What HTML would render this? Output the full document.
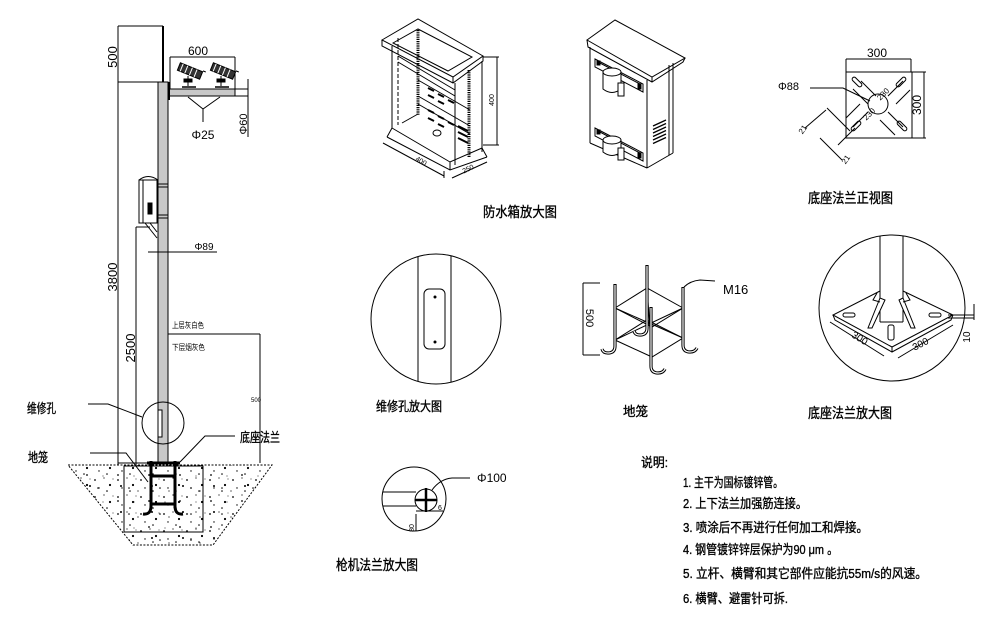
<!DOCTYPE html>
<html><head><meta charset="utf-8"><style>
html,body{margin:0;padding:0;background:#fff;}
svg{display:block;}
.t{font-family:"Liberation Sans","Noto Sans CJK SC",sans-serif;fill:#000;stroke:none;}
.c{stroke:#000;stroke-width:0.35;}
</style></head><body>
<svg width="1008" height="623" viewBox="0 0 1008 623" xmlns="http://www.w3.org/2000/svg">
<defs>
<pattern id="d1" width="23" height="17" patternUnits="userSpaceOnUse">
<circle cx="3" cy="4" r="0.9"/><circle cx="12" cy="2" r="0.6"/><circle cx="18" cy="9" r="1.1"/><circle cx="7" cy="12" r="0.7"/><circle cx="15" cy="15" r="0.8"/><circle cx="21" cy="3" r="0.5"/>
</pattern>
<pattern id="d2" width="31" height="26" patternUnits="userSpaceOnUse">
<circle cx="5" cy="20" r="0.8"/><circle cx="25" cy="7" r="0.9"/><circle cx="14" cy="23" r="0.6"/><circle cx="28" cy="18" r="1"/><circle cx="10" cy="8" r="0.5"/>
</pattern>
</defs>
<rect width="1008" height="623" fill="#fff"/>

<g stroke="#000" stroke-width="1" fill="none">
<!-- ===== LEFT POLE ===== -->
<polygon points="68,465 272,465 213,545 133,545" fill="url(#d1)" stroke-dasharray="2,1.5"/>
<polygon points="68,465 272,465 213,545 133,545" fill="url(#d2)" stroke="none"/>
<rect x="124" y="466" width="79" height="66"/>

<line x1="118" y1="26" x2="163" y2="26"/>
<line x1="163" y1="26" x2="163" y2="82" stroke-width="2"/>
<line x1="118" y1="26" x2="118" y2="465"/>
<line x1="118" y1="82" x2="158" y2="82"/>
<line x1="136" y1="227" x2="136" y2="465"/>
<line x1="136" y1="227" x2="150" y2="227"/>
<line x1="118" y1="463" x2="150" y2="463"/>
<rect x="158" y="82" width="10" height="381" fill="#c8c8c8"/>
<line x1="158" y1="184" x2="168" y2="184"/><line x1="158" y1="187" x2="168" y2="187"/>
<line x1="158" y1="215" x2="168" y2="215"/><line x1="158" y1="218" x2="168" y2="218"/>

<!-- crossarm -->
<rect x="168" y="89" width="67" height="7" fill="#c8c8c8"/>
<rect x="235" y="89" width="13" height="7" fill="#fff"/>
<line x1="169" y1="82" x2="169" y2="100" stroke-width="2"/>
<line x1="170" y1="57" x2="235" y2="57"/>
<line x1="170" y1="57" x2="170" y2="89"/>
<line x1="235" y1="57" x2="235" y2="89"/>
<line x1="248" y1="79" x2="248" y2="137"/>
<polyline points="188,97 203,109 220,97"/>
<line x1="203" y1="109" x2="203" y2="122"/>
<!-- cameras -->
<g transform="translate(190,71) rotate(22)"><rect x="-12" y="-4" width="24" height="8" fill="#333"/><line x1="-9" y1="-4" x2="-9" y2="4" stroke="#fff"/><line x1="-4" y1="-4" x2="-4" y2="4" stroke="#fff"/><line x1="1" y1="-4" x2="1" y2="4" stroke="#fff"/><line x1="6" y1="-4" x2="6" y2="4" stroke="#fff"/><line x1="12" y1="-5" x2="15" y2="-5"/></g>
<line x1="188" y1="76" x2="188" y2="86"/><rect x="184" y="79" width="8" height="3" fill="#000"/><line x1="182" y1="87" x2="196" y2="87" stroke-width="1.5"/>
<g transform="translate(223,71) rotate(22)"><rect x="-12" y="-4" width="24" height="8" fill="#333"/><line x1="-9" y1="-4" x2="-9" y2="4" stroke="#fff"/><line x1="-4" y1="-4" x2="-4" y2="4" stroke="#fff"/><line x1="1" y1="-4" x2="1" y2="4" stroke="#fff"/><line x1="6" y1="-4" x2="6" y2="4" stroke="#fff"/><line x1="12" y1="-5" x2="15" y2="-5"/></g>
<line x1="221" y1="76" x2="221" y2="86"/><rect x="217" y="79" width="8" height="3" fill="#000"/><line x1="215" y1="87" x2="229" y2="87" stroke-width="1.5"/>

<!-- box on pole -->
<path d="M139,180 Q148,173 158,180"/>
<rect x="139" y="180" width="18" height="43" fill="#fff"/>
<line x1="143" y1="180" x2="143" y2="223"/>
<rect x="148" y="203" width="4" height="11" fill="#000"/>
<line x1="145" y1="223" x2="157" y2="238"/><line x1="150" y1="223" x2="157" y2="232"/>
<line x1="148" y1="252" x2="217" y2="252"/>

<!-- colour leader -->
<line x1="168" y1="334" x2="260" y2="334"/>
<line x1="260" y1="334" x2="260" y2="463"/>

<!-- maintenance hole -->
<circle cx="163" cy="423" r="21"/>
<rect x="158" y="410" width="4" height="27" fill="#fff"/>
<polyline points="88,404 108,404 142,417"/>
<polyline points="235,436 205,436 180,462"/>
<polyline points="90,453 126,453 148,482"/>

<!-- anchor cage -->
<g stroke-width="3">
<line x1="147" y1="463" x2="180" y2="463"/>
<line x1="151" y1="461" x2="151" y2="508"/>
<line x1="175" y1="461" x2="175" y2="508"/>
<line x1="151" y1="476" x2="175" y2="476"/>
<line x1="151" y1="504" x2="175" y2="504"/>
<path d="M151,506 Q151,515 143,514"/>
<path d="M175,506 Q175,515 183,514"/>
</g>

<!-- ===== OPEN BOX ===== -->
<polygon points="382,40 418,19 483,56 453,77"/>
<polyline points="382,40 382,46 453,83 483,61 483,56"/>
<line x1="453" y1="77" x2="453" y2="83"/>
<polygon points="393,43 418,29 472,57 448,71"/>
<line x1="392" y1="46" x2="392" y2="128"/>
<line x1="455" y1="83" x2="455" y2="165"/>
<line x1="482" y1="61" x2="482" y2="152"/>
<line x1="398" y1="38" x2="398" y2="125" stroke-dasharray="4,2"/>
<line x1="418" y1="30" x2="418" y2="115" stroke-width="3" stroke-dasharray="1.2,1"/>
<line x1="469" y1="70" x2="469" y2="157" stroke-width="3" stroke-dasharray="1.2,1"/>
<line x1="398" y1="56" x2="455" y2="90"/>
<line x1="398" y1="62" x2="455" y2="96"/>
<line x1="418" y1="80" x2="470" y2="110"/>
<line x1="418" y1="96" x2="470" y2="126"/>
<line x1="418" y1="104" x2="470" y2="134"/>
<g stroke-width="2">
<line x1="428" y1="88" x2="434" y2="91"/><line x1="438" y1="94" x2="444" y2="97"/><line x1="428" y1="95" x2="434" y2="98"/><line x1="438" y1="101" x2="444" y2="104"/><line x1="448" y1="100" x2="454" y2="103"/>
<line x1="428" y1="110" x2="434" y2="113"/><line x1="438" y1="116" x2="444" y2="119"/><line x1="428" y1="118" x2="434" y2="121"/><line x1="438" y1="124" x2="444" y2="127"/><line x1="448" y1="122" x2="454" y2="125"/>
<line x1="458" y1="126" x2="468" y2="131"/><line x1="458" y1="132" x2="468" y2="137"/><line x1="458" y1="138" x2="468" y2="143"/>
</g>
<polyline points="387,137 450,170 487,157"/>
<polyline points="392,128 450,162 482,148"/>
<line x1="387" y1="137" x2="392" y2="128"/><line x1="487" y1="157" x2="482" y2="148"/>
<line x1="450" y1="162" x2="450" y2="170"/>
<polyline points="402,123 418,114"/>
<ellipse cx="437" cy="133" rx="4" ry="3"/>
<line x1="383" y1="143" x2="444" y2="176"/>
<line x1="452" y1="178" x2="487" y2="162"/>
<line x1="444" y1="171" x2="444" y2="178"/>
<line x1="483" y1="57" x2="499" y2="57"/>
<line x1="483" y1="145" x2="499" y2="145"/>
<line x1="497" y1="57" x2="497" y2="145"/>

<!-- ===== CLOSED BOX ===== -->
<polygon points="587,40 615,20 685,58 652,77"/>
<polyline points="587,40 588,47 652,82 683,62 685,58"/>
<line x1="652" y1="77" x2="652" y2="82"/>
<line x1="590" y1="47" x2="590" y2="143"/>
<line x1="647" y1="80" x2="647" y2="168"/>
<line x1="590" y1="143" x2="647" y2="168"/>
<line x1="673" y1="63" x2="673" y2="153"/>
<line x1="669" y1="65" x2="669" y2="155"/>
<line x1="647" y1="168" x2="673" y2="153"/>
<polygon points="595,59 643,84 643,92 595,67"/>
<line x1="598" y1="62" x2="640" y2="84"/>
<rect x="597" y="61" width="3" height="4" fill="#000"/><rect x="638" y="84" width="3" height="5" fill="#000"/>
<path d="M603,72 L603,89 Q612,96 621,89 L621,72" fill="#fff"/>
<ellipse cx="612" cy="72" rx="9" ry="4" fill="#fff"/>
<rect x="618" y="83" width="6" height="13" fill="#fff"/>
<polygon points="595,128 643,153 643,161 595,136"/>
<line x1="598" y1="131" x2="640" y2="153"/>
<rect x="597" y="130" width="3" height="4" fill="#000"/><rect x="638" y="153" width="3" height="5" fill="#000"/>
<path d="M603,140 L603,152 Q612,159 621,152 L621,140" fill="#fff"/>
<ellipse cx="612" cy="140" rx="9" ry="4" fill="#fff"/>
<rect x="618" y="148" width="6" height="12" fill="#fff"/>
<g stroke-width="1.3">
<line x1="653" y1="126" x2="666" y2="120"/><line x1="653" y1="129.5" x2="666" y2="123.5"/><line x1="653" y1="133" x2="666" y2="127"/><line x1="653" y1="136.5" x2="666" y2="130.5"/><line x1="653" y1="140" x2="666" y2="134"/><line x1="653" y1="143.5" x2="666" y2="137.5"/>
</g>

<!-- ===== FLANGE TOP VIEW ===== -->
<rect x="846" y="72" width="66" height="66"/>
<line x1="846" y1="59" x2="911" y2="59"/>
<line x1="846" y1="59" x2="846" y2="72"/><line x1="911" y1="59" x2="911" y2="72"/>
<line x1="912" y1="72" x2="926" y2="72"/><line x1="912" y1="138" x2="926" y2="138"/>
<line x1="924" y1="72" x2="924" y2="138"/>
<circle cx="878" cy="104" r="10"/>
<line x1="853" y1="89" x2="868" y2="104"/><line x1="861" y1="81" x2="876" y2="96"/>
<line x1="888" y1="112" x2="903" y2="127"/><line x1="880" y1="120" x2="895" y2="135"/>
<line x1="888" y1="96" x2="903" y2="81"/><line x1="896" y1="104" x2="910" y2="90"/>
<line x1="868" y1="112" x2="853" y2="127"/><line x1="860" y1="104" x2="846" y2="118"/>
<rect x="851" y="80" width="12" height="4" rx="2" transform="rotate(45 857 82)"/>
<rect x="895" y="80" width="12" height="4" rx="2" transform="rotate(-45 901 82)"/>
<rect x="850" y="124" width="12" height="4" rx="2" transform="rotate(-45 856 126)"/>
<rect x="896" y="124" width="12" height="4" rx="2" transform="rotate(45 902 126)"/>
<polyline points="810,88 843,88 870,101"/>
<line x1="827" y1="108" x2="850" y2="131"/>
<line x1="805" y1="128" x2="826" y2="110"/>
<line x1="820" y1="138" x2="842" y2="160"/>
<line x1="838" y1="145" x2="855" y2="128"/>

<!-- ===== FLANGE ENLARGED ===== -->
<circle cx="892" cy="308" r="73"/>
<line x1="880" y1="236" x2="880" y2="322"/>
<line x1="903" y1="236" x2="903" y2="322"/>
<line x1="880" y1="322" x2="903" y2="322"/>
<polyline points="880,291 833,315 892,347 953,315 903,291"/>
<polyline points="833,315 835,320 892,352 951,320 953,315"/>
<line x1="892" y1="347" x2="892" y2="352"/>
<polygon points="880,298 868,328 872,328 885,300" fill="#fff"/>
<polygon points="903,298 915,328 911,328 899,300" fill="#fff"/>
<polyline points="877,293 873,300 880,302"/>
<polyline points="906,293 910,300 903,302"/>
<rect x="843" y="313" width="12" height="4" rx="2"/>
<rect x="929" y="313" width="12" height="4" rx="2"/>
<rect x="888" y="325" width="6" height="15" rx="2"/>
<line x1="830" y1="322" x2="884" y2="356"/>
<line x1="898" y1="358" x2="953" y2="325"/>
<line x1="948" y1="315" x2="974" y2="315"/>
<line x1="948" y1="318" x2="974" y2="318"/>
<line x1="974" y1="304" x2="974" y2="320"/>

<!-- ===== MAINTENANCE HOLE ENLARGED ===== -->
<circle cx="436" cy="319" r="65"/>
<line x1="418" y1="256.5" x2="418" y2="381.5"/>
<line x1="451" y1="255.8" x2="451" y2="382.2"/>
<rect x="424" y="289" width="21" height="60" rx="5"/>
<circle cx="435" cy="297" r="1" fill="#000"/>
<circle cx="435" cy="342" r="1" fill="#000"/>

<!-- ===== ANCHOR CAGE ===== -->
<line x1="583" y1="283" x2="600" y2="283"/>
<line x1="583" y1="355" x2="600" y2="355"/>
<line x1="583" y1="283" x2="583" y2="355"/>
<polygon points="615,308 647,288 683,308 652,327"/>
<polygon points="615,340 647,320 683,338 652,357"/>
<line x1="615" y1="308" x2="683" y2="338"/>
<line x1="683" y1="308" x2="615" y2="340"/>
<line x1="647" y1="288" x2="652" y2="357"/>
<line x1="652" y1="327" x2="647" y2="320"/>
<g stroke-width="3.2">
<path d="M615,284 V346 Q615,353 608,353 Q603,353 602,349"/>
<path d="M647,265 V328 Q647,335 640,335 Q635,335 634,331"/>
<path d="M651,307 V366 Q651,373 658,373 Q663,373 665,369"/>
<path d="M683,287 V345 Q683,352 690,352 Q695,352 697,348"/>
</g>
<g stroke="#fff" stroke-width="1.2">
<path d="M615,285 V346 Q615,353 608,353 Q603,353 602,349"/>
<path d="M647,266 V328 Q647,335 640,335 Q635,335 634,331"/>
<path d="M651,308 V366 Q651,373 658,373 Q663,373 665,369"/>
<path d="M683,288 V345 Q683,352 690,352 Q695,352 697,348"/>
</g>
<path d="M684,287 Q690,281 700,280 L715,281"/>

<!-- ===== GUN FLANGE ===== -->
<circle cx="414" cy="499" r="32"/>
<line x1="383" y1="492" x2="416" y2="492"/>
<line x1="383" y1="506" x2="416" y2="506"/>
<circle cx="426" cy="500" r="11"/>
<line x1="426" y1="488" x2="426" y2="512" stroke-width="2.5"/>
<line x1="415" y1="500" x2="437" y2="500" stroke-width="2.5"/>
<line x1="416" y1="511" x2="443" y2="511"/>
<line x1="416" y1="514" x2="416" y2="531"/>
<path d="M432,490 Q440,479 452,478 L470,478"/>
</g>

<!-- ===== TEXT ===== -->
<g class="t">
<text transform="translate(117,57) rotate(-90)" text-anchor="middle" font-size="13">500</text>
<text transform="translate(117,277) rotate(-90)" text-anchor="middle" font-size="13">3800</text>
<text transform="translate(135,348) rotate(-90)" text-anchor="middle" font-size="13">2500</text>
<text x="198" y="55" text-anchor="middle" font-size="12">600</text>
<text x="203" y="139" text-anchor="middle" font-size="12">Φ25</text>
<text transform="translate(247,124) rotate(-90)" text-anchor="middle" font-size="11">Φ60</text>
<text x="204" y="250" text-anchor="middle" font-size="10">Φ89</text>
<text x="172" y="328" font-size="8" textLength="32" lengthAdjust="spacingAndGlyphs">上层灰白色</text>
<text x="172" y="350" font-size="8" textLength="33" lengthAdjust="spacingAndGlyphs">下层烟灰色</text>
<text x="251" y="402" font-size="6">500</text>
<text class="c" x="27" y="413" font-size="13" textLength="29" lengthAdjust="spacingAndGlyphs">维修孔</text>
<text class="c" x="28" y="462" font-size="13" textLength="20" lengthAdjust="spacingAndGlyphs">地笼</text>
<text class="c" x="240" y="442" font-size="13" textLength="40" lengthAdjust="spacingAndGlyphs">底座法兰</text>

<text class="c" x="483" y="217" font-size="14" textLength="74" lengthAdjust="spacingAndGlyphs">防水箱放大图</text>
<text transform="translate(494,100) rotate(-90)" text-anchor="middle" font-size="7">400</text>
<text transform="translate(420,163) rotate(30)" text-anchor="middle" font-size="7">400</text>
<text transform="translate(469,171) rotate(-25)" text-anchor="middle" font-size="7">250</text>

<text x="877" y="57" text-anchor="middle" font-size="12">300</text>
<text transform="translate(921,105) rotate(-90)" text-anchor="middle" font-size="12">300</text>
<text x="778" y="90" font-size="11">Φ88</text>
<text transform="translate(885,96) rotate(-45)" text-anchor="middle" font-size="8">230</text>
<text transform="translate(871,116) rotate(-45)" text-anchor="middle" font-size="8">230</text>
<text transform="translate(805,131) rotate(-55)" text-anchor="middle" font-size="8">21</text>
<text transform="translate(848,161) rotate(-55)" text-anchor="middle" font-size="8">21</text>
<text class="c" x="808" y="203" font-size="14" textLength="85" lengthAdjust="spacingAndGlyphs">底座法兰正视图</text>

<text transform="translate(858,341) rotate(32)" text-anchor="middle" font-size="10">300</text>
<text transform="translate(922,347) rotate(-28)" text-anchor="middle" font-size="10">300</text>
<text transform="translate(970,337) rotate(-90)" text-anchor="middle" font-size="10">10</text>
<text class="c" x="808" y="418" font-size="14" textLength="84" lengthAdjust="spacingAndGlyphs">底座法兰放大图</text>

<text class="c" x="376" y="411" font-size="13" textLength="66" lengthAdjust="spacingAndGlyphs">维修孔放大图</text>
<text transform="translate(586,318) rotate(90)" text-anchor="middle" font-size="11">500</text>
<text x="723" y="294" font-size="13">M16</text>
<text class="c" x="623" y="416" font-size="13" textLength="25" lengthAdjust="spacingAndGlyphs">地笼</text>

<text x="477" y="482" font-size="12">Φ100</text>
<text x="438" y="510" font-size="7">6</text>
<text transform="translate(414,528) rotate(-90)" text-anchor="middle" font-size="7">80</text>
<text class="c" x="336" y="570" font-size="14" textLength="82" lengthAdjust="spacingAndGlyphs">枪机法兰放大图</text>

<text class="c" x="641" y="467" font-size="13" textLength="27" lengthAdjust="spacingAndGlyphs">说明:</text>
<text class="c" x="683" y="487" font-size="13" textLength="100" lengthAdjust="spacingAndGlyphs">1. 主干为国标镀锌管。</text>
<text class="c" x="683" y="508" font-size="13" textLength="124" lengthAdjust="spacingAndGlyphs">2. 上下法兰加强筋连接。</text>
<text class="c" x="683" y="532" font-size="13" textLength="185" lengthAdjust="spacingAndGlyphs">3. 喷涂后不再进行任何加工和焊接。</text>
<text class="c" x="683" y="554" font-size="13" textLength="155" lengthAdjust="spacingAndGlyphs">4. 钢管镀锌锌层保护为90 μm 。</text>
<text class="c" x="683" y="578" font-size="13" textLength="244" lengthAdjust="spacingAndGlyphs">5. 立杆、横臂和其它部件应能抗55m/s的风速。</text>
<text class="c" x="683" y="603" font-size="13" textLength="105" lengthAdjust="spacingAndGlyphs">6. 横臂、避雷针可拆.</text>
</g>
</svg>
</body></html>
